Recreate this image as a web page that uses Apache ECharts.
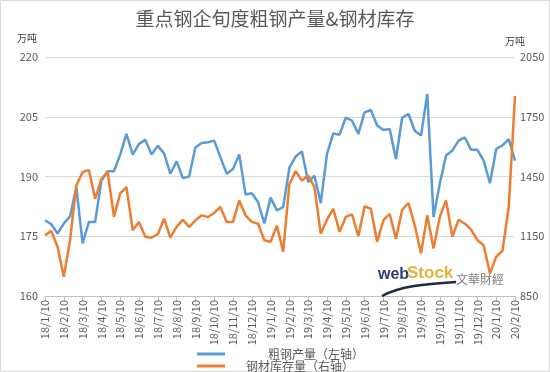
<!DOCTYPE html>
<html>
<head>
<meta charset="utf-8">
<script src="https://cdn.jsdelivr.net/npm/echarts@6/dist/echarts.min.js"></script>
<style>
html,body{margin:0;padding:0;background:#fff;}
#c{width:550px;height:372px;}
</style>
</head>
<body>
<div id="c"></div>
<script>
var categories = [
 '18/1/10','18/1/20','18/1/31','18/2/10','18/2/20','18/2/28','18/3/10','18/3/20','18/3/31',
 '18/4/10','18/4/20','18/4/30','18/5/10','18/5/20','18/5/31','18/6/10','18/6/20','18/6/30',
 '18/7/10','18/7/20','18/7/31','18/8/10','18/8/20','18/8/31','18/9/10','18/9/20','18/9/30',
 '18/10/10','18/10/20','18/10/31','18/11/10','18/11/20','18/11/30','18/12/10','18/12/20','18/12/31',
 '19/1/10','19/1/20','19/1/31','19/2/10','19/2/20','19/2/28','19/3/10','19/3/20','19/3/31',
 '19/4/10','19/4/20','19/4/30','19/5/10','19/5/20','19/5/31','19/6/10','19/6/20','19/6/30',
 '19/7/10','19/7/20','19/7/31','19/8/10','19/8/20','19/8/31','19/9/10','19/9/20','19/9/30',
 '19/10/10','19/10/20','19/10/31','19/11/10','19/11/20','19/11/30','19/12/10','19/12/20','19/12/31',
 '20/1/10','20/1/20','20/1/31','20/2/10'
];
var crudeSteel = [
 179.0,178.0,175.7,178.2,180.0,187.3,173.2,178.6,178.6,
 189.0,191.3,191.3,195.5,200.7,195.5,198.2,199.2,195.5,
 197.7,195.8,190.7,193.8,189.6,190.0,197.3,198.4,198.6,
 199.0,194.8,190.7,191.9,195.5,185.5,185.8,183.6,178.2,
 184.7,181.5,182.3,192.2,195.0,196.3,188.6,190.2,183.3,
 195.7,200.8,200.5,204.8,204.0,200.7,206.1,206.7,202.8,
 201.7,201.9,194.4,204.8,205.7,201.5,200.3,210.7,179.8,
 188.2,195.3,196.5,199.0,199.8,196.7,196.7,194.0,188.3,
 196.9,197.8,199.4,194.0
];
var steelStock = [
 1155,1177,1097,947,1130,1405,1472,1483,1338,
 1438,1472,1247,1365,1397,1180,1222,1147,1143,
 1160,1238,1143,1197,1233,1197,1230,1255,1247,
 1267,1297,1222,1222,1330,1255,1222,1213,1130,
 1122,1203,1072,1413,1477,1430,1455,1397,1163,
 1233,1288,1172,1247,1260,1150,1300,1288,1122,
 1230,1263,1138,1283,1317,1205,1063,1255,1088,
 1247,1330,1147,1233,1213,1183,1130,1105,963,
 1047,1077,1297,1855
];
var leftTicks = {min:160, max:220, step:15};
var rightTicks = {min:850, max:2050, step:300};
var seriesNames = ['粗钢产量（左轴）','钢材库存量（右轴）'];
var titleText = '重点钢企旬度粗钢产量&钢材库存';
var unitText = '万吨';

var FONT = '"Noto Sans CJK SC", "Noto Sans", sans-serif';
var GRAY = '#595959';
var chart = echarts.init(document.getElementById('c'), null, {renderer:'canvas'});
chart.setOption({
  backgroundColor:'#ffffff',
  animation:false,
  textStyle:{fontFamily:FONT},
  title:{
    text:titleText, left:'center', top:4,
    textStyle:{fontSize:19, fontWeight:'normal', color:GRAY, fontFamily:FONT}
  },
  grid:{left:45, right:35, top:57, bottom:76, containLabel:false},
  legend:[
    {data:[seriesNames[0]], left:195, top:346, itemWidth:28, itemHeight:3, icon:'rect', padding:[2,2,2,2],
     textStyle:{fontSize:12, color:GRAY, padding:[0,0,0,38]}},
    {data:[seriesNames[1]], left:195, top:358, itemWidth:28, itemHeight:3, icon:'rect', padding:[2,2,2,2],
     textStyle:{fontSize:12, color:GRAY, padding:[0,0,0,16]}}
  ],
  xAxis:{
    type:'category', data:categories, boundaryGap:false,
    axisLine:{lineStyle:{color:'#bfbfbf'}},
    axisTick:{show:true, interval:2, length:5, lineStyle:{color:'#bfbfbf'}},
    axisLabel:{interval:2, rotate:90, fontSize:11, color:GRAY, margin:4, fontFamily:FONT}
  },
  yAxis:[
    {type:'value', min:leftTicks.min, max:leftTicks.max, interval:leftTicks.step,
     name:unitText, nameLocation:'end', nameGap:14,
     nameTextStyle:{fontSize:10, color:'#404040', align:'right', padding:[0,8,0,0]},
     axisLine:{show:false}, axisTick:{show:false},
     axisLabel:{fontSize:11, color:GRAY, margin:7, formatter:function(v){return String(v);}},
     splitLine:{lineStyle:{color:'#d9d9d9'}}},
    {type:'value', min:rightTicks.min, max:rightTicks.max, interval:rightTicks.step,
     name:unitText, nameLocation:'end', nameGap:11,
     nameTextStyle:{fontSize:10, color:'#404040', align:'center'},
     axisLine:{show:false}, axisTick:{show:false},
     axisLabel:{fontSize:11, color:GRAY, margin:5, formatter:function(v){return String(v);}},
     splitLine:{show:false}}
  ],
  series:[
    {name:seriesNames[0], type:'line', yAxisIndex:0, data:crudeSteel,
     showSymbol:false, symbol:'none', lineStyle:{color:'#5B9BD5', width:2.5}, itemStyle:{color:'#5B9BD5'}},
    {name:seriesNames[1], type:'line', yAxisIndex:1, data:steelStock,
     showSymbol:false, symbol:'none', lineStyle:{color:'#ED7D31', width:2.5}, itemStyle:{color:'#ED7D31'}}
  ],
  graphic:[
    {type:'rect', shape:{x:0.5,y:0.5,width:549,height:371}, style:{fill:null, stroke:'#d9d9d9', lineWidth:1}, silent:true},
    {type:'bezierCurve', shape:{x1:382,y1:296,cpx1:400,cpy1:286,cpx2:425,cpy2:284,x2:456,y2:282},
     style:{stroke:'#1f2a44', lineWidth:2.5, fill:null}, silent:true, z:1},
    {type:'text', left:378, top:267, silent:true, z:1,
     style:{text:'web', font:'bold 16px "Liberation Sans", Arial, sans-serif', fill:'#2e3d7c'}},
    {type:'text', left:407, top:265, silent:true, z:1,
     style:{text:'Stock', font:'bold 17px "Liberation Sans", Arial, sans-serif', fill:'#e2b23a'}},
    {type:'text', left:456, top:273, silent:true, z:1,
     style:{text:'文華財經', font:'12px "Noto Sans CJK TC", sans-serif', fill:'#7f7f7f'}}
  ]
});
</script>
</body>
</html>
